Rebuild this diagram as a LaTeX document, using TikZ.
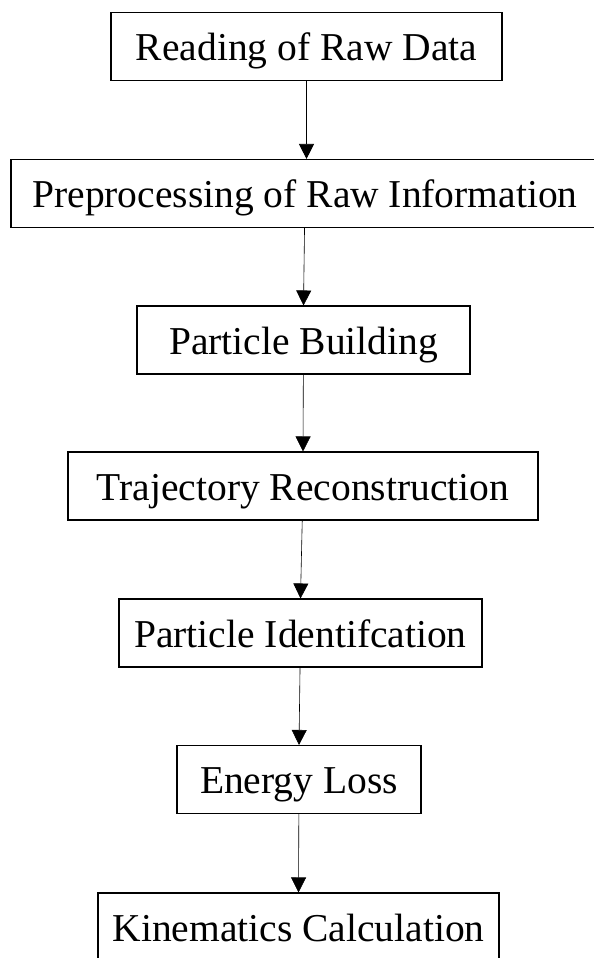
\documentclass[tikz,border=0pt]{standalone}
\usepackage{fontspec}
\setmainfont{Liberation Serif}
\usetikzlibrary{arrows.meta}

\begin{document}
\begin{tikzpicture}[x=1pt,y=1pt,>={Triangle[width=15pt,length=15pt]},
    stage/.style={draw,line width=1.1pt,inner xsep=0pt,inner ysep=10pt,
        text height=38pt,text depth=10pt,font=\fontsize{39.5}{47}\selectfont},
    flow/.style={->,line width=0.6pt}]

% page frame
\useasboundingbox (0,0) rectangle (594,-958);

% processing stages, top to bottom
\node[stage,minimum width=391pt] (read) at (306.5,-46.5) {Reading of Raw Data};
\node[stage,minimum width=588pt] (prep) at (305,-193.5) {Preprocessing of Raw Information};
\node[stage,minimum width=333pt] (build) at (303.5,-340) {Particle Building};
\node[stage,minimum width=470pt] (traj) at (303,-486) {Trajectory Reconstruction};
\node[stage,minimum width=363pt] (pid) at (300.5,-633) {Particle Identifcation};
\node[stage,minimum width=244pt] (eloss) at (299,-779.5) {Energy Loss};
\node[stage,minimum width=401pt] (kin) at (298.5,-927) {Kinematics Calculation};

% arrows between the stages
\draw[flow] (read) -- (read |- prep.north);
\draw[flow] (prep) -- (build.north);
\draw[flow] (build) -- (traj.north);
\draw[flow] (traj) -- (pid.north);
\draw[flow] (pid) -- (eloss.north);
\draw[flow] (eloss) -- (kin.north);

\end{tikzpicture}
\end{document}
